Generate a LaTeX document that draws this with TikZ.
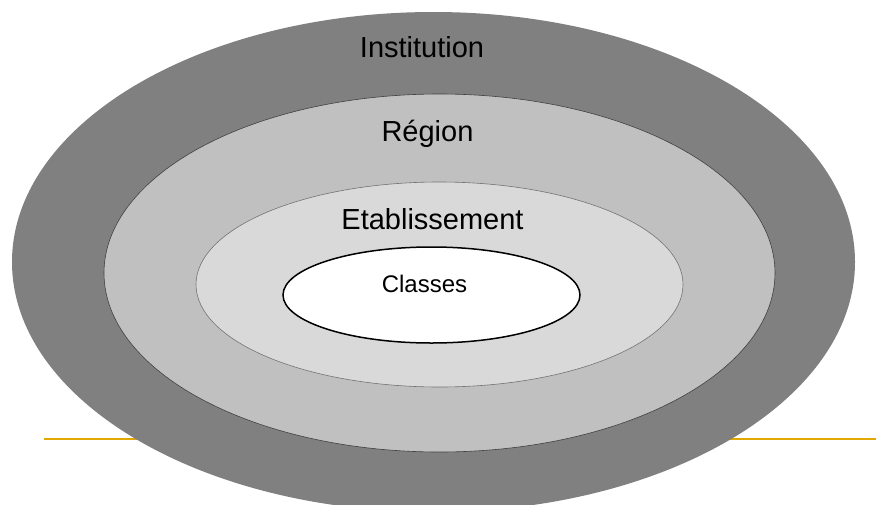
\documentclass[tikz,border=0pt]{standalone}
\usepackage{fontspec}
\setmainfont{Liberation Sans}
\usetikzlibrary{shapes.geometric}
\definecolor{gold}{HTML}{E0A800}
\definecolor{darkgr}{HTML}{808080}
\definecolor{midgr}{HTML}{C0C0C0}
\definecolor{lightgr}{HTML}{D9D9D9}
\tikzset{
  ring/.style={ellipse, inner sep=0pt, outer sep=0pt},
  lbl/.style={anchor=base, inner sep=0pt, font=\fontsize{29}{34}\selectfont},
  smlbl/.style={anchor=base, inner sep=0pt, font=\fontsize{24}{28}\selectfont}
}
\begin{document}
\begin{tikzpicture}[x=1pt,y=-1pt]
\useasboundingbox (0,0) rectangle (876,504);
\clip (0,0) rectangle (876,504);
\fill[white] (0,0) rectangle (876,504);
\coordinate (ls) at (44,439);
\coordinate (le) at (876,439);
\draw[gold, line width=2pt] (ls) -- (le);
\node[ring, fill=darkgr, minimum width=843pt, minimum height=500pt] (inst) at (433.5,262) {};
\node[ring, fill=midgr, draw=black!75, line width=0.6pt, minimum width=671pt, minimum height=358pt] (reg) at (439.5,273) {};
\node[ring, fill=lightgr, draw=black!55, line width=0.6pt, minimum width=487pt, minimum height=205pt] (etab) at (439.5,284.5) {};
\node[ring, fill=white, draw=black, line width=1.5pt, minimum width=297pt, minimum height=96pt] (cls) at (431.5,295) {};
\node[lbl] (tinst) at (422,57) {Institution};
\node[lbl] (treg) at (427.5,141) {Région};
\node[lbl] (tetab) at (432.5,229) {Etablissement};
\node[smlbl] (tcls) at (424.5,292) {Classes};
\end{tikzpicture}
\end{document}
